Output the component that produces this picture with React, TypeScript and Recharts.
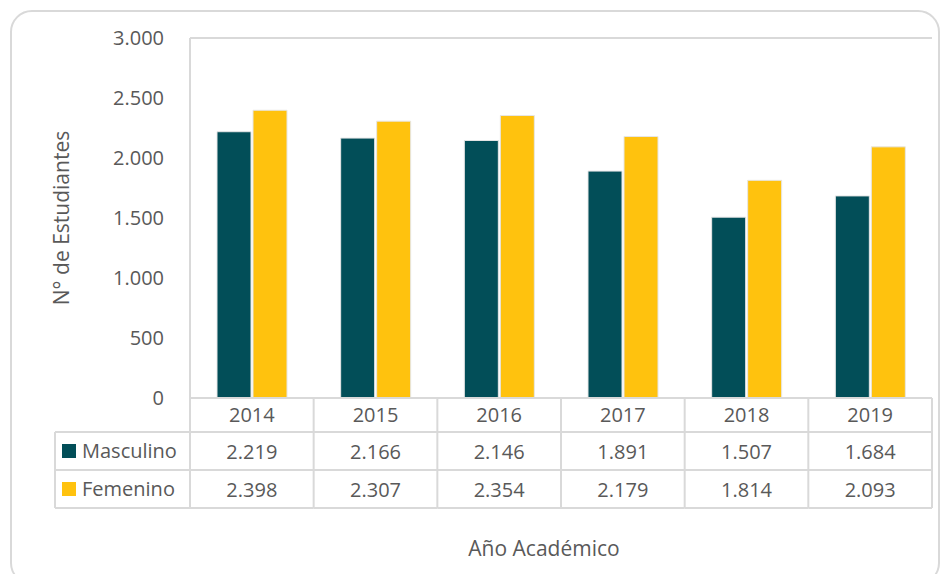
import { BarChart, Bar, XAxis, YAxis, ReferenceLine } from "recharts";

// Matrícula por año académico y sexo
const years = ["2014", "2015", "2016", "2017", "2018", "2019"];
const masculino = [2219, 2166, 2146, 1891, 1507, 1684];
const femenino = [2398, 2307, 2354, 2179, 1814, 2093];
const yTicks = [0, 500, 1000, 1500, 2000, 2500, 3000];

const TEAL = "#024E58";
const GOLD = "#FFC20E";
const TEXT = "#595959";
const LINE = "#D9D9D9";
const FONT = "'Open Sans', sans-serif";

const W = 942;
const H = 574;
const PLOT_LEFT = 190;
const PLOT_RIGHT = 10;
const colW = (W - PLOT_LEFT - PLOT_RIGHT) / years.length;
const rowH = [34, 38, 38];

const fmt = (v: number) => v.toLocaleString("de-DE");

const data = years.map((y, i) => ({
  year: y,
  masculino: masculino[i],
  femenino: femenino[i],
}));

// each x tick draws one column of the data table
function TableTick(props: any) {
  const { x, y, index, payload } = props;
  const top = y;
  const left = x - colW / 2;
  const r1 = top + rowH[0];
  const r2 = r1 + rowH[1];
  const r3 = r2 + rowH[2];
  const txt = { fontFamily: FONT, fontSize: 20, fill: TEXT, textAnchor: "middle" as const };
  return (
    <g>
      <line x1={left + colW} y1={top} x2={left + colW} y2={r3} stroke={LINE} strokeWidth={2} />
      {index === 0 && (
        <g>
          <line x1={left} y1={top} x2={left} y2={r3} stroke={LINE} strokeWidth={2} />
          <line x1={55} y1={r1} x2={left} y2={r1} stroke={LINE} strokeWidth={2} />
          <line x1={55} y1={r2} x2={left} y2={r2} stroke={LINE} strokeWidth={2} />
          <line x1={55} y1={r3} x2={left} y2={r3} stroke={LINE} strokeWidth={2} />
          <line x1={55} y1={r1} x2={55} y2={r3} stroke={LINE} strokeWidth={2} />
          <rect x={62} y={r1 + 12} width={14} height={14} fill={TEAL} />
          <text x={82} y={r1 + 26} {...txt} textAnchor="start">
            Masculino
          </text>
          <rect x={62} y={r2 + 12} width={14} height={14} fill={GOLD} />
          <text x={82} y={r2 + 26} {...txt} textAnchor="start">
            Femenino
          </text>
        </g>
      )}
      <line x1={left} y1={r1} x2={left + colW} y2={r1} stroke={LINE} strokeWidth={2} />
      <line x1={left} y1={r2} x2={left + colW} y2={r2} stroke={LINE} strokeWidth={2} />
      <line x1={left} y1={r3} x2={left + colW} y2={r3} stroke={LINE} strokeWidth={2} />
      <text x={x} y={top + 24} {...txt}>
        {payload.value}
      </text>
      <text x={x} y={r1 + 27} {...txt}>
        {fmt(masculino[index])}
      </text>
      <text x={x} y={r2 + 27} {...txt}>
        {fmt(femenino[index])}
      </text>
    </g>
  );
}

export default function App() {
  return (
    <div style={{ position: "absolute", left: 0, top: 0, width: W, height: H, background: "#fff" }}>
      <div
        style={{
          position: "absolute",
          left: 10,
          top: 10,
          width: 930,
          height: 575,
          border: `2px solid ${LINE}`,
          borderRadius: 22,
          boxSizing: "border-box",
        }}
      />
      <div style={{ position: "absolute", left: 0, top: 0 }}>
        <BarChart
          width={W}
          height={H}
          data={data}
          margin={{ top: 38, right: PLOT_RIGHT, left: 100, bottom: 0 }}
          barGap={2}
          barSize={34}
        >
          <XAxis
            dataKey="year"
            height={176}
            tickLine={false}
            tickSize={0}
            tickMargin={0}
            axisLine={{ stroke: LINE, strokeWidth: 2 }}
            tick={<TableTick />}
            interval={0}
            label={{
              value: "Año Académico",
              position: "insideBottom",
              offset: 18,
              dx: -17,
              style: { fontFamily: FONT, fontSize: 21, fill: TEXT },
            }}
          />
          <YAxis
            domain={[0, 3000]}
            ticks={yTicks}
            width={90}
            tickLine={false}
            tickMargin={20}
            axisLine={{ stroke: LINE, strokeWidth: 2 }}
            tickFormatter={fmt}
            tick={{ fontFamily: FONT, fontSize: 20, fill: TEXT }}
            label={{
              value: "N° de Estudiantes",
              angle: -90,
              position: "insideLeft",
              offset: -38,
              style: { fontFamily: FONT, fontSize: 21, fill: TEXT, textAnchor: "middle" },
            }}
          />
          <YAxis
            yAxisId="right"
            orientation="right"
            width={0}
            domain={[0, 3000]}
            tick={false}
            tickLine={false}
            axisLine={{ stroke: LINE, strokeWidth: 2 }}
          />
          <ReferenceLine y={3000} stroke={LINE} strokeWidth={2} />
          <Bar dataKey="masculino" fill={TEAL} stroke="#E6E6E6" strokeWidth={1} isAnimationActive={false} />
          <Bar dataKey="femenino" fill={GOLD} stroke="#E6E6E6" strokeWidth={1} isAnimationActive={false} />
        </BarChart>
      </div>
    </div>
  );
}
